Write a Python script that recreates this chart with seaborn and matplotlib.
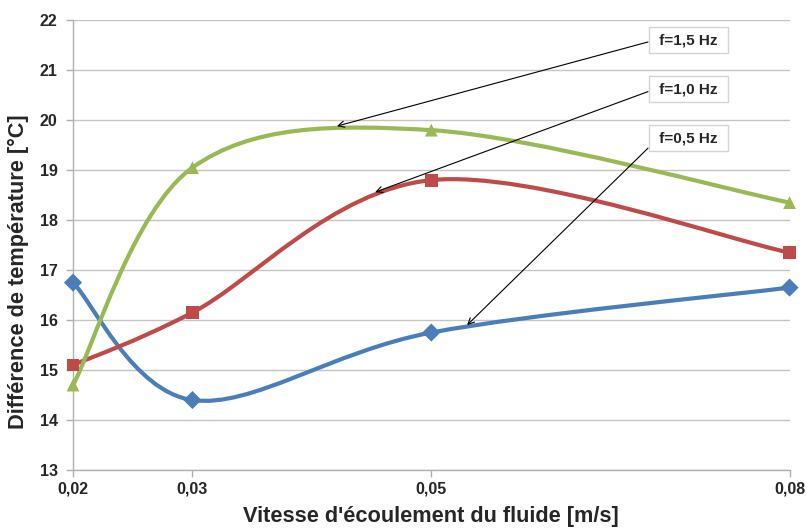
import numpy as np
import pandas as pd
import matplotlib
matplotlib.use("Agg")
import matplotlib.pyplot as plt
from matplotlib.path import Path
from matplotlib.patches import PathPatch
import seaborn as sns

# data
vitesse = [0.02, 0.03, 0.05, 0.08]
f05 = [16.75, 14.4, 15.75, 16.65]
f10 = [15.1, 16.15, 18.8, 17.35]
f15 = [14.7, 19.05, 19.8, 18.35]
series_names = ["f=0,5 Hz", "f=1,0 Hz", "f=1,5 Hz"]
colors = ["#4A7EBB", "#BE4B48", "#98B954"]
markers = ["D", "s", "^"]
xtick_labels = ["0,02", "0,03", "0,05", "0,08"]

# arrow targets on the curves and label box positions
arrow_to = {"f=1,5 Hz": (0.0421, 19.88), "f=1,0 Hz": (0.0453, 18.56), "f=0,5 Hz": (0.0530, 15.9)}
label_at = {"f=1,5 Hz": (0.0715, 21.6), "f=1,0 Hz": (0.0715, 20.62), "f=0,5 Hz": (0.0715, 19.64)}

df = pd.DataFrame({
    "vitesse": vitesse * 3,
    "temp": f05 + f10 + f15,
    "serie": [s for s in series_names for _ in vitesse],
})


def smooth_path(xs, ys):
    # Excel style smoothed line: cubic bezier segments through the points
    pts = np.column_stack([xs, ys])
    verts = [pts[0]]
    codes = [Path.MOVETO]
    n = len(pts)
    for i in range(n - 1):
        p0 = pts[max(i - 1, 0)]
        p1 = pts[i]
        p2 = pts[i + 1]
        p3 = pts[min(i + 2, n - 1)]
        c1 = p1 + (p2 - p0) / 6
        c2 = p2 - (p3 - p1) / 6
        verts += [c1, c2, p2]
        codes += [Path.CURVE4] * 3
    return Path(verts, codes)


sns.set_style("white")
plt.rcParams["font.family"] = ["Liberation Sans", "DejaVu Sans"]

fig = plt.figure(figsize=(8.06, 5.28), dpi=100)
ax = fig.add_axes([0.0906, 0.1098, 0.889, 0.852])

for name, ys, c in zip(series_names, [f05, f10, f15], colors):
    patch = PathPatch(smooth_path(vitesse, ys), fill=False, edgecolor=c, lw=3, zorder=3,
                      capstyle="round", joinstyle="round")
    patch.set_clip_on(False)
    ax.add_patch(patch)

sns.scatterplot(data=df, x="vitesse", y="temp", hue="serie", style="serie",
                palette=dict(zip(series_names, colors)),
                markers=dict(zip(series_names, markers)),
                s=85, linewidth=0, legend=False, zorder=4, clip_on=False, ax=ax)

ax.set_xlim(0.02, 0.08)
ax.set_ylim(13, 22)
ax.set_xticks(vitesse)
ax.set_xticklabels(xtick_labels)
ax.set_yticks(range(13, 23))
ax.yaxis.grid(True, color="#c4c4c4", lw=1)
ax.xaxis.grid(False)
for s in ["top", "right"]:
    ax.spines[s].set_visible(False)
for s in ["left", "bottom"]:
    ax.spines[s].set_color("#b0b0b0")
    ax.spines[s].set_linewidth(1)
ax.tick_params(axis="both", which="both", length=5, color="#b0b0b0", width=1,
               labelsize=11.5)
ax.tick_params(axis="y", direction="out", left=True, pad=6)
ax.tick_params(axis="x", direction="out", bottom=True, pad=3)
for lab in ax.get_xticklabels() + ax.get_yticklabels():
    lab.set_fontweight("bold")

ax.set_xlabel("Vitesse d'écoulement du fluide [m/s]", fontsize=15.7, fontweight="bold", labelpad=7)
ax.set_ylabel("Différence de température [°C]", fontsize=15.7, fontweight="bold")
ax.yaxis.set_label_coords(-0.062, 0.442)

for name in ["f=1,5 Hz", "f=1,0 Hz", "f=0,5 Hz"]:
    rel = (0, 0.25) if name == "f=0,5 Hz" else (0, 0.5)
    ax.annotate(" " + name + " ", xy=arrow_to[name], xytext=label_at[name],
                textcoords="data", ha="center", va="center", fontsize=11, fontweight="bold",
                bbox=dict(boxstyle="square,pad=0.4", fc="white", ec="#d4d4d4", lw=1),
                arrowprops=dict(arrowstyle="->", color="black", lw=0.8, relpos=rel,
                                shrinkA=0, shrinkB=0),
                annotation_clip=False, zorder=6)

fig.savefig("out.png", dpi=100)
